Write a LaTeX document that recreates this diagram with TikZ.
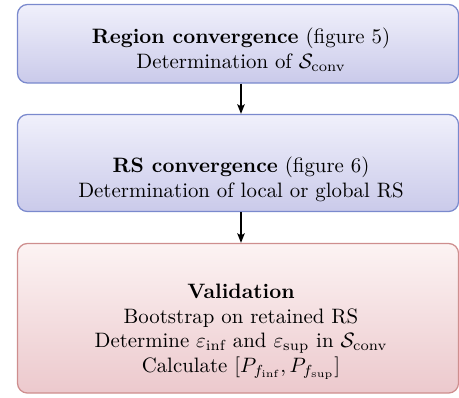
\documentclass[tikz,border=0pt]{standalone}
\usepackage{amsmath}
\usetikzlibrary{arrows.meta}
\definecolor{topblue}{RGB}{240,240,251}
\definecolor{botblue}{RGB}{202,202,234}
\definecolor{edgeblue}{RGB}{122,137,205}
\definecolor{topred}{RGB}{252,243,243}
\definecolor{botred}{RGB}{236,201,205}
\definecolor{edgered}{RGB}{206,142,142}
\begin{document}
\begin{tikzpicture}[x=0.48pt,y=-0.48pt,
  boxbase/.style={line width=0.6pt, rounded corners=4.8pt, inner sep=0pt, minimum width=211.7pt},
  bluebox/.style={boxbase, draw=edgeblue, top color=topblue, bottom color=botblue},
  redbox/.style={boxbase, draw=edgered, top color=topred, bottom color=botred},
  txt/.style={anchor=base, inner sep=0pt},
  arr/.style={-{Stealth[length=4.6pt,width=3.6pt,inset=1pt]}, line width=0.7pt}]
\useasboundingbox (0,0) rectangle (459,397);
% boxes
\node[bluebox, minimum height=37.7pt] (b1) at (238,43.75) {};
\node[bluebox, minimum height=46.6pt] (b2) at (238,163) {};
\node[redbox, minimum height=71.8pt] (b3) at (238,318.25) {};
% texts
\node[txt] (t1a) at (241,43) {\textbf{Region convergence} (figure 5)};
\node[txt] (t1b) at (241,68) {Determination of $\mathcal{S}_{\text{conv}}$};
\node[txt] (t2a) at (241,172) {\textbf{RS convergence} (figure 6)};
\node[txt] (t2b) at (241,197) {Determination of local or global RS};
\node[txt] (t3a) at (241,298) {\textbf{Validation}};
\node[txt] (t3b) at (241,323) {Bootstrap on retained RS};
\node[txt] (t3c) at (241,347.5) {Determine $\varepsilon_{\text{inf}}$ and $\varepsilon_{\text{sup}}$ in $\mathcal{S}_{\text{conv}}$};
\node[txt] (t3d) at (241,372) {Calculate $[P_{f_{\text{inf}}}, P_{f_{\text{sup}}}]$};
% arrows
\draw[arr] (b1.south -| t1a) -- (b2.north -| t1a);
\draw[arr] (b2.south -| t2a) -- (b3.north -| t2a);
\end{tikzpicture}
\end{document}
